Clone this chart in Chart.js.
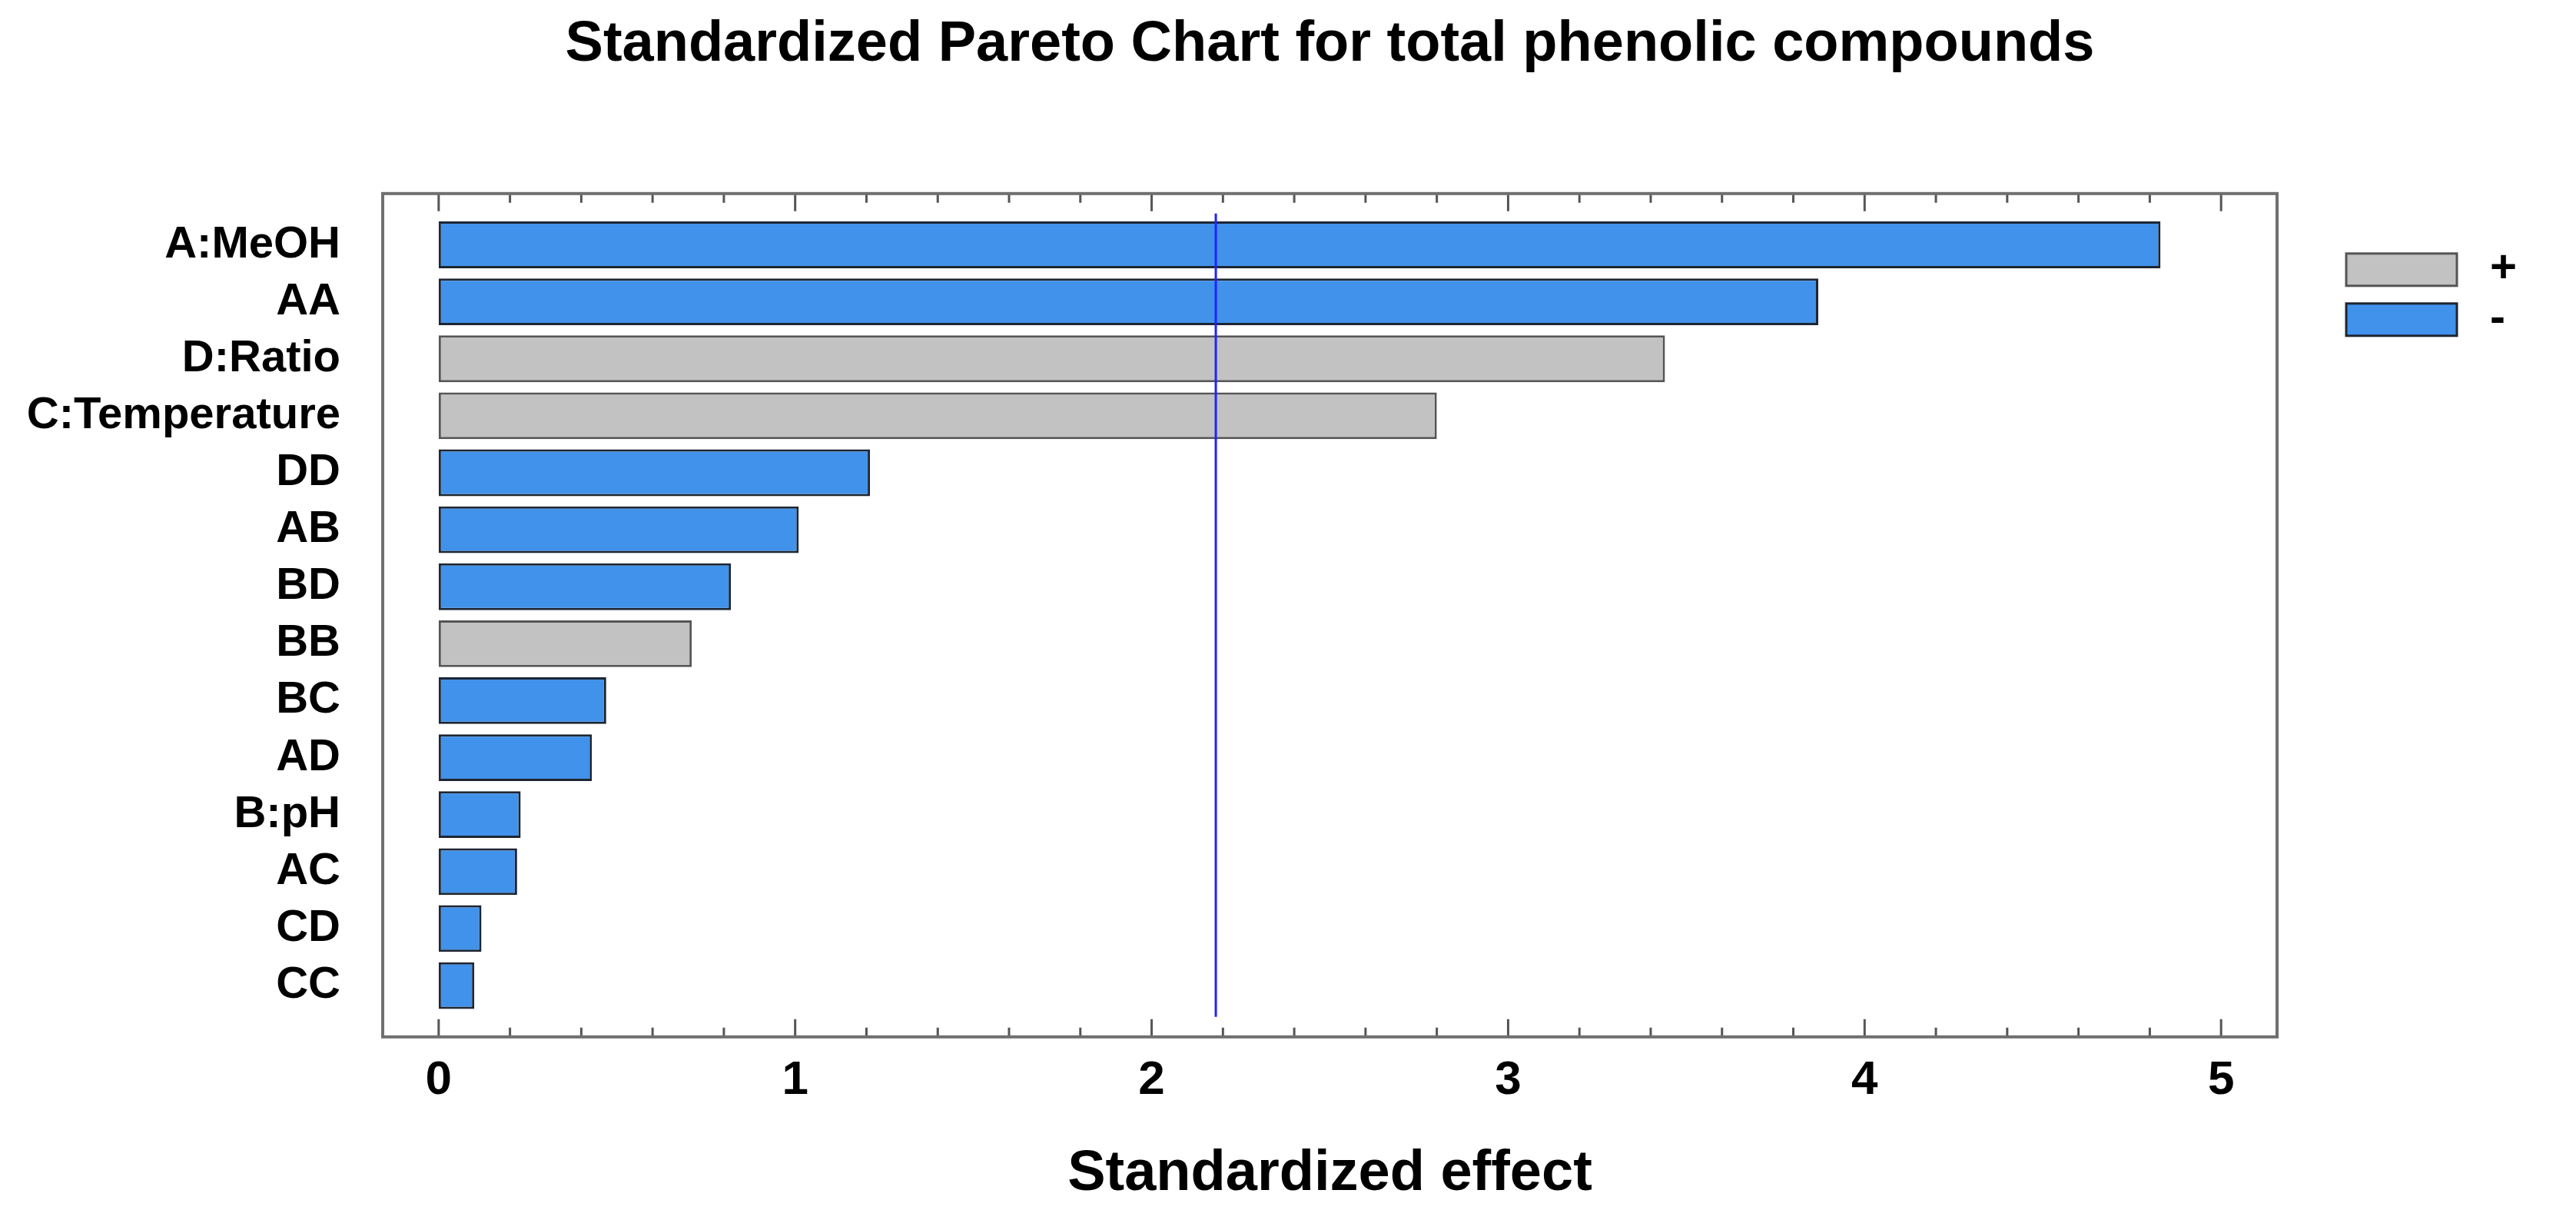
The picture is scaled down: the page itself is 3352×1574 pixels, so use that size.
<!DOCTYPE html>
<html lang="en">
<head>
<meta charset="UTF-8">
<title>Standardized Pareto Chart for total phenolic compounds</title>
<script src="https://cdn.jsdelivr.net/npm/chart.js"></script>
<style>
    body {
        margin: 0;
        padding: 0;
        background-color: #fff;
    }

    canvas {
        display: block;
    }
</style>
</head>
<body>
<canvas id="paretoChart" width="3352" height="1574"></canvas>
<script>
    // effects, from top to bottom of the chart
    const effects = ['A:MeOH', 'AA', 'D:Ratio', 'C:Temperature', 'DD', 'AB', 'BD', 'BB', 'BC', 'AD', 'B:pH', 'AC', 'CD', 'CC'];
    const effectValues = [4.83, 3.87, 3.44, 2.80, 1.21, 1.01, 0.82, 0.71, 0.47, 0.43, 0.23, 0.22, 0.12, 0.10];
    const effectSigns = ['-', '-', '+', '+', '-', '-', '-', '+', '-', '-', '-', '-', '-', '-'];
    const xTickValues = [0, 1, 2, 3, 4, 5];
    const criticalValue = 2.18;

    const FONT = "'Liberation Sans', Arial, sans-serif";

    function pointsFor(sign) {
        const pts = [];
        effects.forEach((name, i) => {
            if (effectSigns[i] === sign) pts.push({ x: effectValues[i], y: i });
        });
        return pts;
    }

    // frame, tick marks, critical line and legend
    const decorations = {
        id: 'decorations',
        afterDatasetsDraw(chart) {
            const { ctx, chartArea: a, scales: { x, y } } = chart;
            ctx.save();

            // critical value line
            const cx = x.getPixelForValue(criticalValue);
            ctx.strokeStyle = '#2222ff';
            ctx.lineWidth = 3;
            ctx.beginPath();
            ctx.moveTo(cx, y.getPixelForValue(-0.55));
            ctx.lineTo(cx, y.getPixelForValue(effects.length - 0.45));
            ctx.stroke();

            // major and minor ticks on top and bottom edges
            ctx.strokeStyle = '#555';
            ctx.lineWidth = 3;
            xTickValues.forEach((v0, i) => {
                for (let k = 0; k < 5; k++) {
                    if (i === xTickValues.length - 1 && k > 0) break;
                    const px = x.getPixelForValue(v0 + k * 0.2);
                    const len = k === 0 ? 23 : 12;
                    ctx.beginPath();
                    ctx.moveTo(px, a.bottom);
                    ctx.lineTo(px, a.bottom - len);
                    ctx.moveTo(px, a.top);
                    ctx.lineTo(px, a.top + len);
                    ctx.stroke();
                }
            });

            // plot frame
            ctx.strokeStyle = '#6f6f6f';
            ctx.lineWidth = 4;
            ctx.strokeRect(a.left, a.top, a.right - a.left, a.bottom - a.top);

            // legend
            chart.data.datasets.forEach((ds, d) => {
                const bx = a.right + 90;
                const by = a.top + 78 + d * 65;
                ctx.fillStyle = ds.backgroundColor;
                ctx.fillRect(bx, by, 144, 42);
                ctx.strokeStyle = ds.borderColor;
                ctx.lineWidth = 3;
                ctx.strokeRect(bx, by, 144, 42);
                ctx.fillStyle = '#000';
                ctx.font = 'bold 60px ' + FONT;
                ctx.textBaseline = 'middle';
                ctx.textAlign = 'left';
                ctx.fillText(ds.label, a.right + 277, by + 21);
            });

            ctx.restore();
        }
    };

    const ctx = document.getElementById('paretoChart').getContext('2d');
    const paretoChart = new Chart(ctx, {
        type: 'bar',
        data: {
            datasets: [{
                label: '+',
                data: pointsFor('+'),
                backgroundColor: '#c2c2c2',
                borderColor: '#555555',
            }, {
                label: '-',
                data: pointsFor('-'),
                backgroundColor: '#4192ea',
                borderColor: '#1d2633',
            }]
        },
        options: {
            indexAxis: 'y',
            responsive: false,
            animation: false,
            devicePixelRatio: 1,
            layout: { padding: { left: 0, right: 389, top: 0, bottom: 2 } },
            datasets: {
                bar: {
                    grouped: false,
                    categoryPercentage: 1,
                    barPercentage: 0.82,
                    borderWidth: 3,
                    borderSkipped: false
                }
            },
            scales: {
                x: {
                    type: 'linear',
                    min: -0.157,
                    max: 5.157,
                    afterBuildTicks: (axis) => { axis.ticks = xTickValues.map(v => ({ value: v })); },
                    grid: { display: false, drawTicks: false },
                    border: { display: false },
                    ticks: {
                        padding: 20,
                        color: '#000',
                        font: { family: FONT, size: 62, weight: 'bold' }
                    },
                    title: {
                        display: true,
                        text: 'Standardized effect',
                        color: '#000',
                        font: { family: FONT, size: 74, weight: 'bold' },
                        padding: { top: 20, bottom: 0 }
                    }
                },
                y: {
                    type: 'linear',
                    reverse: true,
                    offset: false,
                    min: -0.9,
                    max: effects.length - 1 + 0.9,
                    afterBuildTicks: (axis) => { axis.ticks = effects.map((e, i) => ({ value: i })); },
                    afterFit: (axis) => { axis.width = 498; },
                    grid: { display: false, drawTicks: false, offset: false },
                    border: { display: false },
                    ticks: {
                        autoSkip: false,
                        padding: 55,
                        color: '#000',
                        font: { family: FONT, size: 58, weight: 'bold' },
                        callback: (value) => effects[value]
                    }
                }
            },
            plugins: {
                legend: { display: false },
                tooltip: { enabled: false },
                title: {
                    display: true,
                    // span the plot width only, so the title sits over the frame
                    fullSize: false,
                    text: 'Standardized Pareto Chart for total phenolic compounds',
                    color: '#000',
                    font: { family: FONT, size: 74, weight: 'bold' },
                    padding: { top: 14, bottom: 149 }
                }
            }
        },
        plugins: [decorations]
    });
</script>
</body>
</html>
